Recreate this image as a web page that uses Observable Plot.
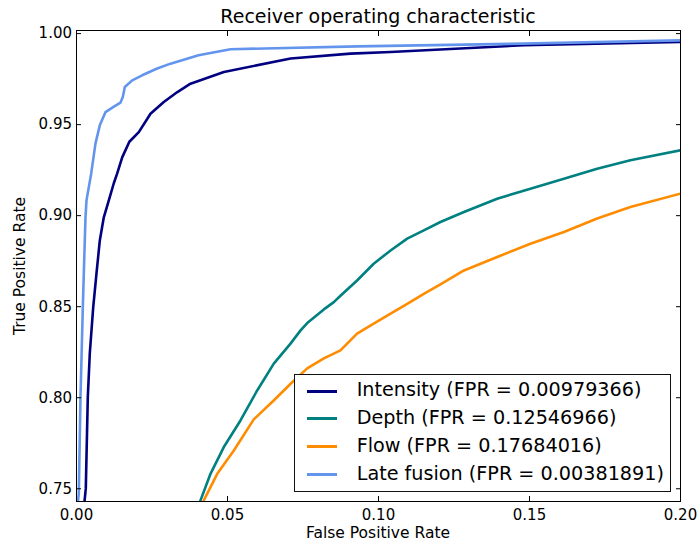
<!DOCTYPE html>
<html><head><meta charset="utf-8">
<script src="https://cdn.jsdelivr.net/npm/d3@7"></script>
<script src="https://cdn.jsdelivr.net/npm/@observablehq/plot@0.6"></script>
<style>
body{margin:0;background:#fff;font-family:"DejaVu Sans",sans-serif;}
#wrap{position:relative;width:697px;height:542px;overflow:hidden;}
#wrap svg{position:absolute;left:0;top:0;}
.title{position:absolute;left:76px;width:604px;top:7px;text-align:center;font-size:19px;line-height:19px;color:#000;}
.xlabel{position:absolute;left:76px;width:604px;top:526px;text-align:center;font-size:15.5px;line-height:15.5px;color:#000;}
.ylabel{position:absolute;left:-130px;width:300px;top:257.5px;text-align:center;font-size:15.5px;line-height:16px;color:#000;transform:rotate(-90deg);transform-origin:50% 50%;}
.legend{position:absolute;left:294px;top:374px;width:377px;height:118px;box-sizing:border-box;border:1px solid #111;background:#fff;}
.row{position:absolute;left:0;font-size:19.2px;line-height:19px;color:#000;white-space:nowrap;}
.row .sw{position:absolute;left:12px;width:30px;height:3px;}
.row .tx{position:absolute;left:61.7px;top:0;}
</style></head><body><div id="wrap"></div>
<script>
const seriesNames = ["Intensity", "Depth", "Flow", "Late fusion"];
const seriesFPRText = ["0.00979366", "0.12546966", "0.17684016", "0.00381891"];
const seriesColors = ["#000080", "#008080", "#ff8c00", "#6495ed"];

const intensityFPR = [0.0024, 0.00265, 0.00308, 0.00374, 0.0044, 0.00553, 0.00662, 0.00772, 0.00904, 0.0107, 0.01235, 0.01348, 0.01513, 0.0175, 0.02063, 0.0245, 0.0289, 0.0334, 0.03775, 0.0488, 0.0709, 0.0907, 0.104, 0.148, 0.2];
const intensityTPR = [0.735, 0.743, 0.7502, 0.8002, 0.8243, 0.8496, 0.8683, 0.8864, 0.8991, 0.9084, 0.9178, 0.9232, 0.932, 0.9406, 0.9459, 0.956, 0.9624, 0.9679, 0.9725, 0.9789, 0.9863, 0.989, 0.9899, 0.9936, 0.9954];

const depthFPR = [0.0398, 0.04106, 0.04437, 0.04878, 0.0543, 0.05983, 0.06533, 0.07086, 0.0742, 0.0764, 0.0819, 0.0852, 0.0874, 0.0929, 0.0984, 0.104, 0.1095, 0.115, 0.1205, 0.1283, 0.1393, 0.1503, 0.1614, 0.1724, 0.1834, 0.2];
const depthTPR = [0.737, 0.7436, 0.7582, 0.7729, 0.7875, 0.804, 0.8187, 0.8297, 0.837, 0.841, 0.8485, 0.8525, 0.856, 0.8644, 0.8736, 0.8809, 0.8874, 0.8919, 0.8965, 0.902, 0.9093, 0.9148, 0.9203, 0.9258, 0.9304, 0.9359];

const flowFPR = [0.0409, 0.04215, 0.0466, 0.0521, 0.0587, 0.0653, 0.0709, 0.0764, 0.0819, 0.0874, 0.0929, 0.0984, 0.104, 0.1095, 0.115, 0.1205, 0.1283, 0.1393, 0.1503, 0.1614, 0.1724, 0.1834, 0.2];
const flowTPR = [0.737, 0.7436, 0.7582, 0.771, 0.7881, 0.7985, 0.8077, 0.8161, 0.8216, 0.826, 0.8352, 0.8407, 0.8462, 0.8516, 0.8571, 0.8623, 0.8699, 0.8773, 0.8846, 0.891, 0.8984, 0.9047, 0.9121];

const lateFPR = [0.0004, 0.0005, 0.00076, 0.00132, 0.00209, 0.00242, 0.00298, 0.00331, 0.00487, 0.00629, 0.00772, 0.0096, 0.01225, 0.01457, 0.01533, 0.016, 0.01844, 0.02175, 0.02672, 0.03113, 0.0404, 0.051, 0.093, 0.148, 0.2];
const lateTPR = [0.735, 0.743, 0.7474, 0.8002, 0.8496, 0.8683, 0.8991, 0.9084, 0.9232, 0.9397, 0.9496, 0.9569, 0.9597, 0.9621, 0.9652, 0.9707, 0.9743, 0.9771, 0.9808, 0.9835, 0.9881, 0.9914, 0.993, 0.9945, 0.9963];

const xTicks = [0, 0.05, 0.1, 0.15, 0.2];
const yTicks = [0.75, 0.8, 0.85, 0.9, 0.95, 1.0];
const xDomain = [0, 0.2];
const yDomain = [0.743, 1.0017];

const fprs = [intensityFPR, depthFPR, flowFPR, lateFPR];
const tprs = [intensityTPR, depthTPR, flowTPR, lateTPR];
const rows = [];
seriesNames.forEach((s, k) => fprs[k].forEach((f, i) => rows.push({series: s, fpr: f, tpr: tprs[k][i]})));

const fmt = d3.format(".2f");
const tickOpts = {tickSize: 5, tickFormat: () => "", label: null, stroke: "black"};

const chart = Plot.plot({
  width: 697, height: 542,
  marginTop: 30, marginBottom: 41, marginLeft: 76, marginRight: 17,
  x: {domain: xDomain, label: null},
  y: {domain: yDomain, label: null},
  color: {domain: seriesNames, range: seriesColors},
  style: {fontFamily: "DejaVu Sans", fontSize: "15px", color: "black", background: "white", overflow: "visible"},
  marks: [
    Plot.line(rows, {x: "fpr", y: "tpr", z: "series", stroke: "series", strokeWidth: 2.6, clip: true}),
    Plot.frame({stroke: "black", strokeWidth: 1}),
    Plot.axisX({ticks: xTicks, anchor: "bottom", tickSize: 0, tickPadding: 8, tickFormat: fmt, label: null, fontSize: 15}),
    Plot.axisY({ticks: yTicks, anchor: "left", tickSize: 0, tickPadding: 4.5, tickFormat: fmt, label: null, fontSize: 15}),
    Plot.axisX({...tickOpts, ticks: xTicks, anchor: "bottom", dy: -5}),
    Plot.axisX({...tickOpts, ticks: xTicks, anchor: "top", dy: 5}),
    Plot.axisY({...tickOpts, ticks: yTicks, anchor: "left", dx: 5}),
    Plot.axisY({...tickOpts, ticks: yTicks, anchor: "right", dx: -5})
  ]
});

const wrap = document.getElementById("wrap");
wrap.appendChild(chart);

const title = document.createElement("div");
title.className = "title"; title.textContent = "Receiver operating characteristic";
wrap.appendChild(title);
const xl = document.createElement("div");
xl.className = "xlabel"; xl.textContent = "False Positive Rate";
wrap.appendChild(xl);
const yl = document.createElement("div");
yl.className = "ylabel"; yl.textContent = "True Positive Rate";
wrap.appendChild(yl);

const legend = document.createElement("div");
legend.className = "legend";
const rowTops = [5.2, 32.8, 60.5, 88.5];
seriesNames.forEach((s, k) => {
  const r = document.createElement("div");
  r.className = "row";
  r.style.top = rowTops[k] + "px";
  const sw = document.createElement("div");
  sw.className = "sw"; sw.style.background = seriesColors[k]; sw.style.top = "9.5px";
  const tx = document.createElement("div");
  tx.className = "tx"; tx.textContent = `${s} (FPR = ${seriesFPRText[k]})`;
  r.appendChild(sw); r.appendChild(tx);
  legend.appendChild(r);
});
wrap.appendChild(legend);
</script>
</body></html>
